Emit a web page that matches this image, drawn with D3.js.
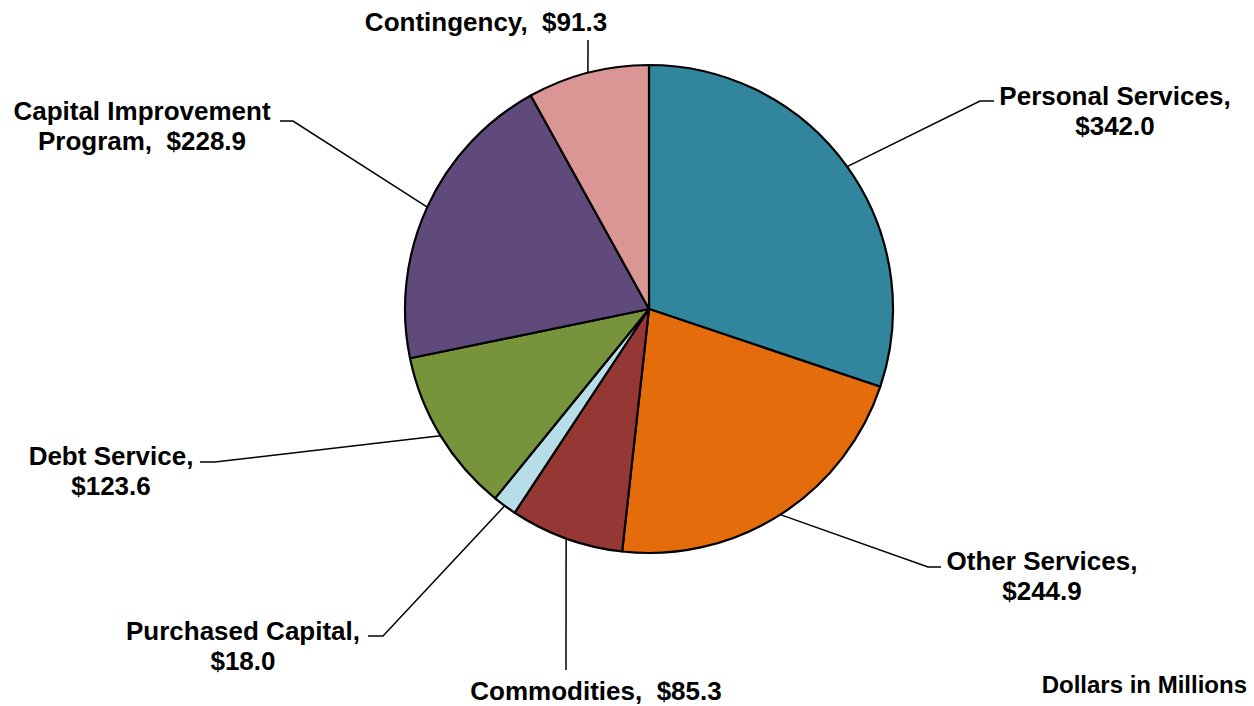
<!DOCTYPE html>
<html>
<head>
<meta charset="utf-8">
<script src="https://cdn.jsdelivr.net/npm/d3@7"></script>
<style>
  html, body { margin: 0; padding: 0; background: #fff; }
  svg { display: block; }
  text { font-family: "Liberation Sans", Arial, Helvetica, sans-serif; font-weight: bold; fill: #000; white-space: pre; }
</style>
</head>
<body>
<svg id="chart" width="1254" height="706"></svg>
<script>
// Budget by category, dollars in millions (clockwise from 12 o'clock)
const categories = ["Personal Services", "Other Services", "Commodities", "Purchased Capital",
                    "Debt Service", "Capital Improvement Program", "Contingency"];
const values = [342.0, 244.9, 85.3, 18.0, 123.6, 228.9, 91.3];
const colors = ["#31869E", "#E46C0A", "#953735", "#B7DEE8", "#77933C", "#604A7B", "#D99694"];

// Label text lines per slice ({v} is replaced by the formatted value)
const labelLines = [
  ["Personal Services,", "{v}"],
  ["Other Services,", "{v}"],
  ["Commodities,  {v}"],
  ["Purchased Capital,", "{v}"],
  ["Debt Service,", "{v}"],
  ["Capital Improvement", "Program,  {v}"],
  ["Contingency,  {v}"]
];

// Label placement: text centre x, first baseline y, and the leader's elbow/end points
const labelLayout = [
  { x: 1115, y: 105, elbow: [980, 101], end: [994, 101] },
  { x: 1042, y: 570, elbow: [928, 567], end: [941, 567] },
  { x: 596,  y: 700, elbow: null,       end: [566, 670] },
  { x: 243,  y: 640, elbow: [383, 636], end: [368, 636] },
  { x: 111,  y: 465, elbow: [215, 462], end: [200, 462] },
  { x: 142,  y: 120, elbow: [293, 121], end: [280, 121] },
  { x: 486,  y: 31,  elbow: null,       end: [588, 40] }
];

const cx = 649, cy = 309, radius = 244;
const fontSize = 26, lineGap = 30;

const svg = d3.select("#chart");
const g = svg.append("g").attr("transform", `translate(${cx},${cy})`);

const data = categories.map((c, i) => ({ name: c, value: values[i], color: colors[i], i }));

const pie = d3.pie().sort(null).value(d => d.value).startAngle(0).endAngle(2 * Math.PI);
const arcs = pie(data);
const arc = d3.arc().innerRadius(0).outerRadius(radius);

g.selectAll("path.slice")
  .data(arcs)
  .join("path")
  .attr("class", "slice")
  .attr("d", arc)
  .attr("fill", d => d.data.color)
  .attr("stroke", "#000")
  .attr("stroke-width", 2.2)
  .attr("stroke-linejoin", "round");

const fmt = v => "$" + d3.format(".1f")(v);

// Leader lines from the slice's mid-angle on the rim to the label
const leaders = svg.append("g");
arcs.forEach((a, i) => {
  const mid = (a.startAngle + a.endAngle) / 2;
  const start = [cx + radius * Math.sin(mid), cy - radius * Math.cos(mid)];
  const L = labelLayout[i];
  const pts = [start];
  if (L.elbow) pts.push(L.elbow);
  pts.push(L.end);
  leaders.append("path")
    .attr("d", d3.line()(pts))
    .attr("fill", "none")
    .attr("stroke", "#000")
    .attr("stroke-width", 1.5);
});

// Labels
const labels = svg.append("g");
arcs.forEach((a, i) => {
  const L = labelLayout[i];
  const t = labels.append("text")
    .attr("text-anchor", "middle")
    .attr("font-size", fontSize);
  labelLines[i].forEach((line, k) => {
    t.append("tspan")
      .attr("x", L.x)
      .attr("y", L.y + k * lineGap)
      .text(line.replace("{v}", fmt(a.data.value)));
  });
});

svg.append("text")
  .attr("x", 1247)
  .attr("y", 693)
  .attr("text-anchor", "end")
  .attr("font-size", 24)
  .text("Dollars in Millions");
</script>
</body>
</html>
